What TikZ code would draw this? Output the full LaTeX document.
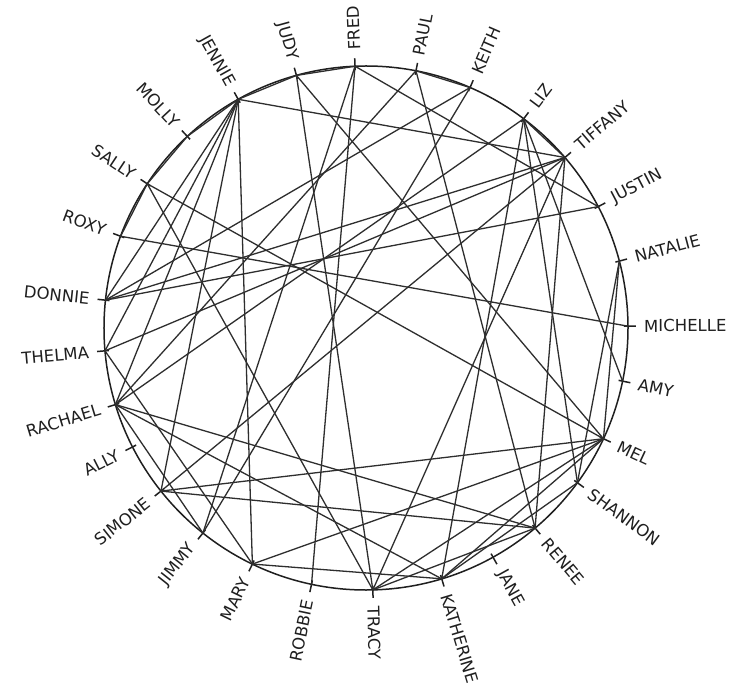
\documentclass[tikz,border=0pt]{standalone}
\usepackage{fontspec}
\setmainfont{DejaVu Sans}
\begin{document}
\begin{tikzpicture}[x=1pt,y=1pt,
  chord/.style={line width=1.3pt, draw=black!82, line cap=round},
  rim/.style={line width=1.5pt, draw=black!88},
  tickmark/.style={line width=1.5pt, draw=black!88},
  lab/.style={font=\fontsize{16.5}{16.5}\selectfont, text=black!88, inner sep=0pt}]
\useasboundingbox (-366,-370) rectangle (372,328);
\fill[white] (-366,-370) rectangle (372,328);
\draw[rim] (0,0) circle (262);
% people on the ring
\foreach \n/\a in {JENNIE/119.2, JUDY/105.4, FRED/92.4, PAUL/79, KEITH/66.6, LIZ/53,
  TIFFANY/40.6, JUSTIN/27.6, NATALIE/14.8, MICHELLE/0.4, AMY/-11.7, MEL/-25,
  SHANNON/-36.2, RENEE/-49.8, JANE/-61, KATHERINE/-73.2, TRACY/-88.5, ROBBIE/-102,
  MARY/-115.7, JIMMY/-128.5, SIMONE/-141.5, ALLY/-153, RACHAEL/-163, THELMA/-175,
  DONNIE/173.9, ROXY/159.5, SALLY/146.6, MOLLY/133} {
  \coordinate (\n) at (\a:262);
  \draw[tickmark] (\a:258) -- (\a:270);
}
% labels, right half
\foreach \n/\a in {FRED/92.4, PAUL/79, KEITH/66.6, LIZ/53, TIFFANY/40.6, JUSTIN/27.6,
  NATALIE/14.8, MICHELLE/0.4, AMY/-11.7, MEL/-25, SHANNON/-36.2, RENEE/-49.8,
  JANE/-61, KATHERINE/-73.2, TRACY/-88.5} {
  \node[lab, anchor=west, rotate=\a] (l\n) at (\a:278) {\n};
}
% labels, left half
\foreach \n/\a in {JUDY/105.4, JENNIE/119.2, MOLLY/133, SALLY/146.6, ROXY/159.5,
  DONNIE/173.9, THELMA/-175, RACHAEL/-163, ALLY/-153, SIMONE/-141.5, JIMMY/-128.5,
  MARY/-115.7, ROBBIE/-102} {
  \node[lab, anchor=east, rotate=\a-180] (l\n) at (\a:278) {\n};
}
% connections
\foreach \p/\q in {JENNIE/TIFFANY, JENNIE/JUDY, JENNIE/MOLLY, MOLLY/SALLY, SALLY/ROXY,
  JENNIE/DONNIE, JENNIE/THELMA, JENNIE/RACHAEL, JENNIE/SIMONE, JENNIE/MARY,
  JUDY/FRED, JUDY/TRACY, JUDY/MEL, FRED/ROBBIE, FRED/JUSTIN, FRED/JIMMY,
  PAUL/KEITH, PAUL/RENEE, PAUL/RACHAEL, KEITH/DONNIE, KEITH/JIMMY,
  LIZ/TIFFANY, LIZ/KATHERINE, LIZ/SHANNON, LIZ/AMY, LIZ/RACHAEL,
  TIFFANY/DONNIE, TIFFANY/THELMA, TIFFANY/SIMONE, TIFFANY/RENEE, TIFFANY/TRACY,
  DONNIE/JUSTIN, ROXY/MICHELLE, SALLY/MEL, SALLY/TRACY, NATALIE/SHANNON, NATALIE/MEL,
  MEL/MARY, MEL/KATHERINE, MEL/SIMONE, MEL/TRACY, RENEE/RACHAEL, RENEE/SIMONE,
  RENEE/TRACY, KATHERINE/SHANNON, MARY/KATHERINE, MARY/THELMA, RACHAEL/JIMMY,
  RACHAEL/KATHERINE} {
  \draw[chord] (\p) -- (\q);
}
\end{tikzpicture}
\end{document}
